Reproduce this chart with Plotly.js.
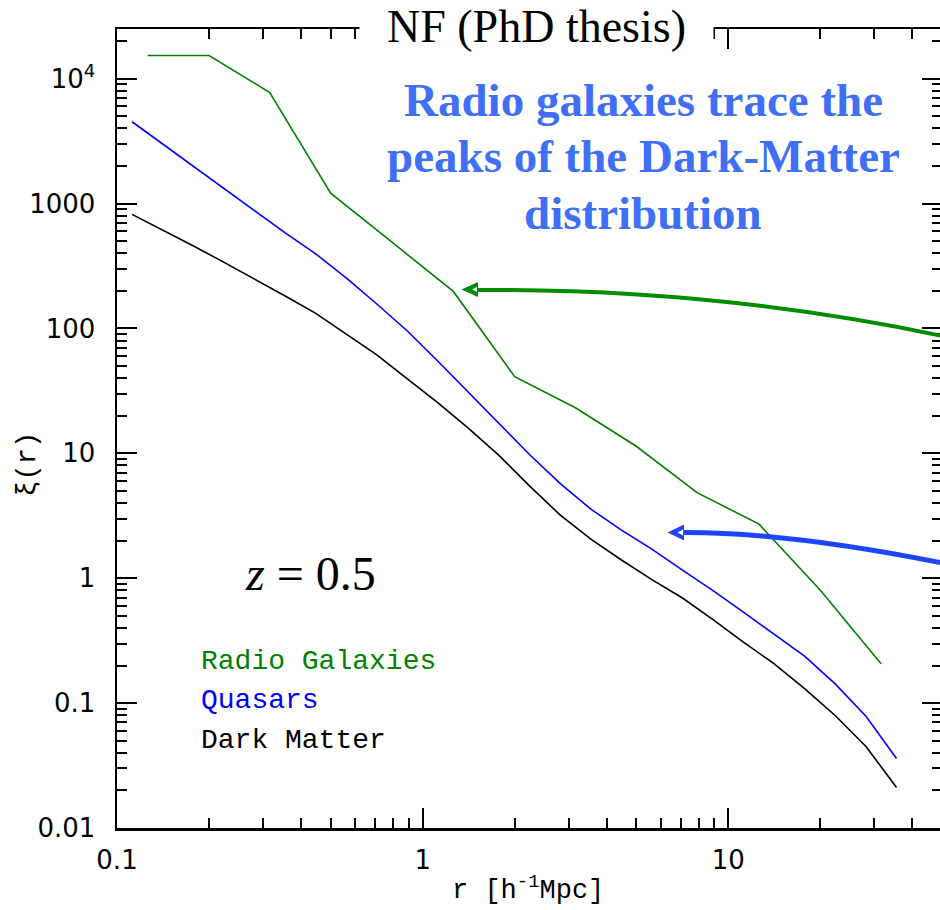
<!DOCTYPE html>
<html>
<head>
<meta charset="utf-8">
<script src="https://cdn.plot.ly/plotly-3.0.1.min.js"></script>
<style>
  html, body { margin: 0; padding: 0; background: #fff; overflow: hidden; }
  #chart { width: 944px; height: 910px; }
</style>
</head>
<body>
<div id="chart"></div>
<script>
// Two-point correlation function xi(r) at z = 0.5
// Radio galaxies sampled on a coarser radial grid than quasars / dark matter.
const rRadio = [0.126, 0.2, 0.316, 0.5, 0.79, 1.26, 2.0, 3.16, 5.0, 7.9, 12.6, 20, 31.6];
const xiRadio = [15350, 15350, 7750, 1210, 495, 198, 41.1, 23.2, 11.4, 4.85, 2.71, 0.80, 0.207];

const rFine = [0.112, 0.141, 0.178, 0.224, 0.282, 0.355, 0.447, 0.562, 0.708, 0.891,
               1.12, 1.41, 1.78, 2.24, 2.82, 3.55, 4.47, 5.62, 7.08, 8.91,
               11.2, 14.1, 17.8, 22.4, 28.2, 35.5];
const xiQuasar = [4520, 3010, 2000, 1320, 874, 582, 395, 254, 157, 95.5,
                  54.9, 31.0, 17.5, 9.75, 5.73, 3.58, 2.43, 1.71, 1.16, 0.796,
                  0.535, 0.358, 0.237, 0.142, 0.0785, 0.036];
const xiDM = [819, 615, 458, 338, 249, 182, 132, 90.3, 61.4, 39.4,
              25.5, 15.9, 9.60, 5.47, 3.20, 2.06, 1.40, 0.975, 0.694, 0.466,
              0.308, 0.207, 0.130, 0.0792, 0.0450, 0.0211];

const xTickVals = [0.1, 1, 10];
const xTickText = ['0.1', '1', '10'];
const yTickVals = [0.01, 0.1, 1, 10, 100, 1000, 10000];
const yTickText = ['0.01', '0.1', '1', '10', '100', '1000', '10<sup>4</sup>'];

const seriesNames = ['Radio Galaxies', 'Quasars', 'Dark Matter'];
const seriesColors = ['#008000', '#0000ff', '#000000'];

// minor ticks at 2..9 of every decade
function minorTicks(lo, hi) {
  const out = [];
  for (let e = lo; e < hi; e++) {
    for (let d = 2; d <= 9; d++) out.push(d * Math.pow(10, e));
  }
  return out;
}

// page geometry of the plotting area
const L = 117, W = 825, T = 29, H = 799;
const P = (px, py) => ((px - L) / W).toFixed(4) + ',' + ((T + H - py) / H).toFixed(4);

const traces = [
  { x: rRadio, y: xiRadio, name: seriesNames[0], mode: 'lines',
    line: { color: seriesColors[0], width: 1.6 } },
  { x: rFine, y: xiQuasar, name: seriesNames[1], mode: 'lines',
    line: { color: seriesColors[1], width: 1.6 } },
  { x: rFine, y: xiDM, name: seriesNames[2], mode: 'lines',
    line: { color: seriesColors[2], width: 1.6 } }
];

const axisCommon = {
  type: 'log',
  showline: true, linecolor: '#000', linewidth: 2.5,
  mirror: 'ticks',
  ticks: 'inside', ticklen: 20, tickwidth: 2, tickcolor: '#000',
  showgrid: false, zeroline: false,
  tickmode: 'array',
  tickfont: { family: 'DejaVu Sans', size: 26, color: '#000' }
};

const greenArrow = '#008c00';
const blueArrow = '#1f45fb';

const shapes = [
  { type: 'path', xref: 'paper', yref: 'paper', layer: 'above',
    path: `M ${P(477, 290)} Q ${P(720, 288)} ${P(952, 338)}`,
    line: { color: greenArrow, width: 4 }, fillcolor: 'rgba(0,0,0,0)' },
  { type: 'path', xref: 'paper', yref: 'paper', layer: 'above',
    path: `M ${P(461.5, 289.5)} L ${P(478, 282)} L ${P(478, 297)} Z`,
    line: { width: 0 }, fillcolor: greenArrow },
  { type: 'path', xref: 'paper', yref: 'paper', layer: 'above',
    path: `M ${P(472, 289.5)} L ${P(477, 287)} L ${P(477, 292)} Z`,
    line: { width: 0 }, fillcolor: '#ffffff' },
  { type: 'path', xref: 'paper', yref: 'paper', layer: 'above',
    path: `M ${P(683, 532.5)} Q ${P(790, 532)} ${P(952, 565)}`,
    line: { color: blueArrow, width: 5 }, fillcolor: 'rgba(0,0,0,0)' },
  { type: 'path', xref: 'paper', yref: 'paper', layer: 'above',
    path: `M ${P(667.5, 532.5)} L ${P(684, 524.5)} L ${P(684, 540.5)} Z`,
    line: { width: 0 }, fillcolor: blueArrow },
  { type: 'path', xref: 'paper', yref: 'paper', layer: 'above',
    path: `M ${P(677.5, 532.5)} L ${P(683, 529.5)} L ${P(683, 535.5)} Z`,
    line: { width: 0 }, fillcolor: '#ffffff' }
];

const monoFont = 'Liberation Mono, Courier New, monospace';
const serifFont = 'Liberation Serif, Times New Roman, serif';
const headline = ['Radio galaxies trace the', 'peaks of the Dark-Matter', 'distribution'];
const headlineY = [0.9110, 0.8413, 0.7692];

const annotations = [
  { text: 'NF (PhD thesis)', xref: 'paper', yref: 'paper', x: 0.509, y: 1.0031,
    xanchor: 'center', yanchor: 'middle', showarrow: false,
    bgcolor: '#ffffff', borderpad: 27,
    font: { family: serifFont, size: 46, color: '#000' } },
  ...headline.map((t, i) => ({
    text: '<b>' + t + '</b>', xref: 'paper', yref: 'paper', x: 0.638, y: headlineY[i],
    xanchor: 'center', yanchor: 'middle', showarrow: false,
    font: { family: serifFont, size: 47, color: '#3e6ff5' } })),
  { text: '<i>z</i> = 0.5', xref: 'paper', yref: 'paper', x: 0.235, y: 0.318,
    xanchor: 'center', yanchor: 'middle', showarrow: false,
    font: { family: serifFont, size: 48, color: '#000' } },
  ...seriesNames.map((n, i) => ({
    text: n, xref: 'paper', yref: 'paper', x: 0.0994, y: [0.2084, 0.1596, 0.1095][i],
    xanchor: 'left', yanchor: 'middle', showarrow: false,
    font: { family: monoFont, size: 28, color: seriesColors[i] } })),
  { text: 'r [h<sup>-1</sup>Mpc]', xref: 'paper', yref: 'paper', x: 0.498, y: -0.0760,
    xanchor: 'center', yanchor: 'middle', showarrow: false,
    font: { family: monoFont, size: 27, color: '#000' } },
  { text: 'ξ(r)', xref: 'paper', yref: 'paper', x: -0.1079, y: 0.4560,
    xanchor: 'center', yanchor: 'middle', showarrow: false, textangle: -90,
    font: { family: monoFont, size: 27, color: '#000' } }
];

const layout = {
  width: 944, height: 910,
  margin: { l: L, r: 944 - L - W, t: T, b: 910 - T - H, pad: 0 },
  paper_bgcolor: '#ffffff', plot_bgcolor: '#ffffff',
  showlegend: false,
  xaxis: Object.assign({}, axisCommon, {
    range: [-1, Math.log10(50)],
    tickvals: xTickVals, ticktext: xTickText,
    ticklabelstandoff: 7,
    minor: { tickmode: 'array', tickvals: minorTicks(-1, 2), ticks: 'inside',
             ticklen: 10, tickwidth: 2, tickcolor: '#000', showgrid: false }
  }),
  yaxis: Object.assign({}, axisCommon, {
    range: [-2, Math.log10(25000)],
    tickvals: yTickVals, ticktext: yTickText,
    ticklabelstandoff: 14,
    minor: { tickmode: 'array', tickvals: minorTicks(-2, 5), ticks: 'inside',
             ticklen: 10, tickwidth: 2, tickcolor: '#000', showgrid: false }
  }),
  shapes: shapes,
  annotations: annotations
};

Plotly.newPlot('chart', traces, layout, { staticPlot: true, displayModeBar: false });
</script>
</body>
</html>
